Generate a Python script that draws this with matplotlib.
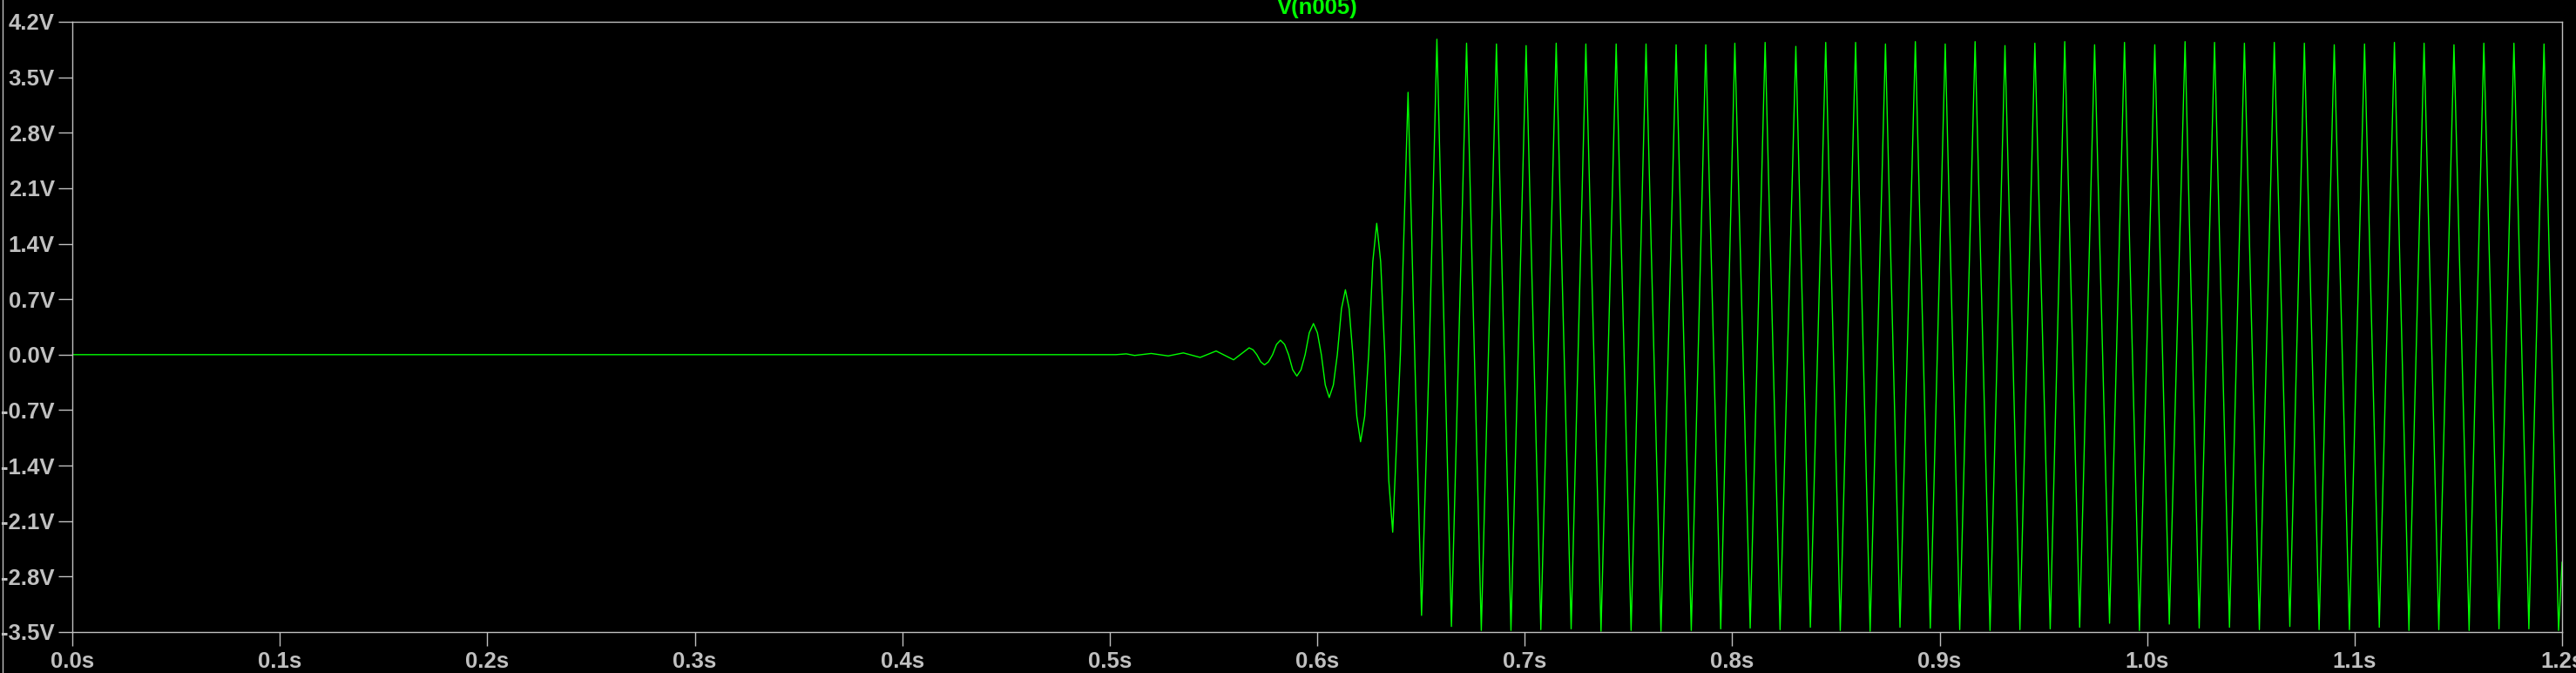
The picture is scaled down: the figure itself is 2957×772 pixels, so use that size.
import matplotlib.pyplot as plt
from matplotlib.lines import Line2D
import numpy as np

# V(n005) transient - oscillator start-up
# quiet part + growing oscillation (time s, volts)
grow_t = [0.0, 0.5030, 0.5080, 0.5120, 0.5200, 0.5282, 0.5355, 0.5436, 0.5513,
          0.5597, 0.5672, 0.5691, 0.5709, 0.5728, 0.5746, 0.5765, 0.5785, 0.5804,
          0.5823, 0.5843, 0.5862, 0.5882, 0.5902, 0.5922, 0.5942, 0.5962, 0.5982,
          0.6001, 0.6020, 0.6039, 0.6058, 0.6078, 0.6097, 0.6117, 0.6136, 0.6154,
          0.6172, 0.6191, 0.6209, 0.6229, 0.6248, 0.6268, 0.6287, 0.6306, 0.6326,
          0.6345, 0.6364, 0.6401, 0.6438, 0.6470, 0.6503, 0.6540, 0.6577]
grow_v = [0.0, 0.0, 0.010, -0.010, 0.015, -0.016, 0.022, -0.035, 0.046,
          -0.065, 0.086, 0.061, 0.0, -0.091, -0.129, -0.091, 0.0, 0.129,
          0.183, 0.129, 0.0, -0.191, -0.270, -0.191, 0.0, 0.277, 0.392,
          0.277, 0.0, -0.383, -0.541, -0.383, 0.0, 0.579, 0.819, 0.579,
          0.0, -0.777, -1.099, -0.777, 0.0, 1.172, 1.657, 1.172, 0.0,
          -1.584, -2.240, 0.0, 3.310, 0.0, -3.290, 0.0, 3.980]

# saturated part: peaks and troughs
peak_t = [0.6720, 0.6864, 0.7007, 0.7152, 0.7295, 0.7441, 0.7585, 0.7730, 0.7873,
          0.8013, 0.8159, 0.8307, 0.8451, 0.8595, 0.8739, 0.8883, 0.9027, 0.9171,
          0.9315, 0.9459, 0.9603, 0.9747, 0.9891, 1.0037, 1.0183, 1.0325, 1.0469,
          1.0613, 1.0758, 1.0902, 1.1048, 1.1192, 1.1335, 1.1479, 1.1623, 1.1768,
          1.1913]
peak_v = [3.93, 3.92, 3.90, 3.93, 3.92, 3.92, 3.92, 3.91, 3.91,
          3.93, 3.94, 3.89, 3.94, 3.94, 3.92, 3.95, 3.92, 3.95,
          3.90, 3.93, 3.95, 3.91, 3.94, 3.91, 3.95, 3.94, 3.93,
          3.94, 3.93, 3.91, 3.92, 3.94, 3.93, 3.91, 3.93, 3.93,
          3.92]
trough_t = [0.6647, 0.6791, 0.6934, 0.7078, 0.7224, 0.7368, 0.7513, 0.7657, 0.7803,
            0.7945, 0.8087, 0.8231, 0.8377, 0.8521, 0.8665, 0.8809, 0.8955, 0.9097,
            0.9243, 0.9387, 0.9533, 0.9675, 0.9819, 0.9963, 1.0107, 1.0251, 1.0397,
            1.0541, 1.0688, 1.0829, 1.0975, 1.1119, 1.1262, 1.1406, 1.1552, 1.1696,
            1.1840, 1.1983]
trough_v = [-3.43, -3.48, -3.48, -3.47, -3.46, -3.49, -3.48, -3.49, -3.48,
            -3.46, -3.45, -3.47, -3.44, -3.48, -3.49, -3.44, -3.45, -3.47,
            -3.48, -3.47, -3.46, -3.44, -3.39, -3.48, -3.40, -3.45, -3.44,
            -3.47, -3.43, -3.47, -3.47, -3.44, -3.48, -3.47, -3.48, -3.46,
            -3.46, -3.48]
end_t = [1.2]
end_v = [-2.62]

yticks = [4.2, 3.5, 2.8, 2.1, 1.4, 0.7, 0.0, -0.7, -1.4, -2.1, -2.8, -3.5]
xticks = [0.0, 0.1, 0.2, 0.3, 0.4, 0.5, 0.6, 0.7, 0.8, 0.9, 1.0, 1.1, 1.2]

t = np.array(grow_t + peak_t + trough_t + end_t)
v = np.array(grow_v + peak_v + trough_v + end_v)
order = np.argsort(t, kind='stable')
t, v = t[order], v[order]

gray = '#c0c0c0'
plt.rcParams['font.family'] = ['Liberation Sans', 'DejaVu Sans']

fig = plt.figure(figsize=(29.57, 7.72), dpi=100, facecolor='black')
ax = fig.add_axes([83/2957, 47/772, 2858/2957, 700/772])
ax.set_facecolor('black')
ax.plot(t, v, color='#00ff00', lw=1.0)

ax.set_xlim(0, 1.2)
ax.set_ylim(-3.5, 4.2)
ax.set_xticks(xticks)
ax.set_xticklabels(['%.1fs' % x for x in xticks])
ax.set_yticks(yticks)
ax.set_yticklabels(['%.1fV' % y for y in yticks])
for s in ax.spines.values():
    s.set_color(gray)
    s.set_linewidth(1.0)
ax.tick_params(axis='both', colors=gray, direction='out', length=11.5, width=1.0,
               labelsize=18.5)
ax.tick_params(axis='x', pad=4)
ax.tick_params(axis='y', pad=3)
for lab in ax.get_xticklabels() + ax.get_yticklabels():
    lab.set_fontweight('bold')

fig.text(1512/2957, 1 - 16/772, 'V(n005)', color='#00ff00', fontsize=18.5,
         fontweight='bold', ha='center', va='baseline')
# window frame on the left
fig.add_artist(Line2D([2.5/2957, 2.5/2957], [0, 1], color=gray, lw=1.0))

fig.savefig('out.png', dpi=100, facecolor='black')
